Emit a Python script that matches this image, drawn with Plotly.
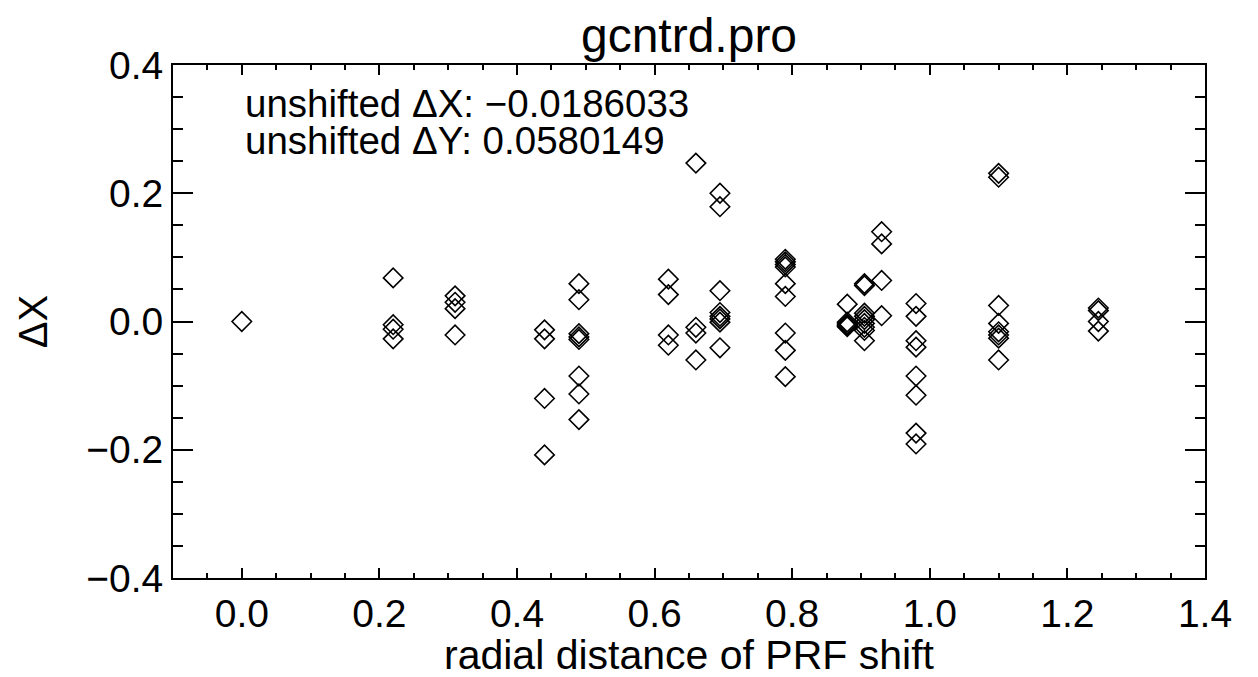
import plotly.graph_objects as go

# radial distance of PRF shift (one entry per point)
radial = (
    [0.0]
    + [0.22] * 4
    + [0.31] * 4
    + [0.44] * 4
    + [0.49] * 8
    + [0.62] * 4
    + [0.66] * 4
    + [0.695] * 8
    + [0.79] * 9
    + [0.88] * 5
    + [0.905] * 9
    + [0.93] * 4
    + [0.98] * 8
    + [1.10] * 8
    + [1.245] * 4
)

# Delta X values, same order as radial
delta_x = (
    [0.0]
    + [0.068, -0.005, -0.012, -0.027]
    + [0.040, 0.030, 0.020, -0.021]
    + [-0.013, -0.027, -0.120, -0.208]
    + [0.059, 0.034, -0.019, -0.024, -0.028, -0.085, -0.113, -0.153]
    + [0.066, 0.042, -0.021, -0.037]
    + [0.247, -0.009, -0.018, -0.060]
    + [0.200, 0.179, 0.048, 0.014, 0.008, 0.004, -0.001, -0.041]
    + [0.097, 0.093, 0.089, 0.085, 0.059, 0.039, -0.018, -0.045, -0.086]
    + [0.027, -0.001, -0.004, -0.006, -0.008]
    + [0.059, 0.056, 0.013, 0.008, 0.003, -0.003, -0.009, -0.014, -0.030]
    + [0.140, 0.121, 0.064, 0.009]
    + [0.028, 0.008, -0.030, -0.040, -0.085, -0.115, -0.174, -0.191]
    + [0.231, 0.225, 0.025, -0.003, -0.016, -0.021, -0.026, -0.060]
    + [0.021, 0.017, 0.000, -0.015]
)

x_ticks = [0.0, 0.2, 0.4, 0.6, 0.8, 1.0, 1.2, 1.4]
x_ticklabels = ["0.0", "0.2", "0.4", "0.6", "0.8", "1.0", "1.2", "1.4"]
y_ticks = [-0.4, -0.2, 0.0, 0.2, 0.4]
y_ticklabels = ["\u22120.4", "\u22120.2", "0.0", "0.2", "0.4"]

title_text = "gcntrd.pro"
x_title = "radial distance of PRF shift"
y_title = "\u0394X"
note_lines = ["unshifted \u0394X: \u22120.0186033", "unshifted \u0394Y: 0.0580149"]

FONT = "Liberation Sans, Arial, Helvetica, sans-serif"

fig = go.Figure()
fig.add_trace(
    go.Scatter(
        x=radial,
        y=delta_x,
        mode="markers",
        marker=dict(
            symbol="diamond-open",
            size=15,
            color="black",
            line=dict(color="black", width=1.6),
        ),
        showlegend=False,
        hoverinfo="x+y",
    )
)

axis_common = dict(
    showline=True,
    linecolor="black",
    linewidth=2,
    mirror="allticks",
    ticks="inside",
    tickcolor="black",
    tickwidth=1.5,
    showgrid=False,
    zeroline=False,
    automargin=False,
    tickfont=dict(family=FONT, size=39, color="black"),
)

fig.update_xaxes(
    **axis_common,
    range=[-0.1, 1.4],
    tickvals=x_ticks,
    ticktext=x_ticklabels,
    ticklen=10,
    ticklabelstandoff=0,
    minor=dict(ticks="inside", ticklen=5, dtick=0.05, tickcolor="black", tickwidth=1.5, showgrid=False),
)
fig.update_yaxes(
    **axis_common,
    range=[-0.4, 0.4],
    tickvals=y_ticks,
    ticktext=y_ticklabels,
    ticklen=20,
    minor=dict(ticks="inside", ticklen=10, dtick=0.05, tickcolor="black", tickwidth=1.5, showgrid=False),
    title=dict(text=y_title, font=dict(family=FONT, size=40, color="black"), standoff=26),
)

# x-axis title, placed below the tick labels
fig.add_annotation(
    xref="paper",
    yref="paper",
    x=0.5,
    y=-0.150,
    xanchor="center",
    yanchor="middle",
    text=x_title,
    showarrow=False,
    font=dict(family=FONT, size=41, color="black"),
)

for i, line in enumerate(note_lines):
    fig.add_annotation(
        xref="paper",
        yref="paper",
        x=0.0678,
        y=0.924 - i * 0.072,
        xanchor="left",
        yanchor="middle",
        text=line,
        showarrow=False,
        font=dict(family=FONT, size=38.5, color="black"),
    )

fig.update_layout(
    width=1258,
    height=677,
    margin=dict(l=173, r=53, t=65, b=99),
    paper_bgcolor="white",
    plot_bgcolor="white",
    title=dict(
        text=title_text,
        x=0.5477,
        xanchor="center",
        y=0.948,
        yanchor="middle",
        font=dict(family=FONT, size=48, color="black"),
    ),
    font=dict(family=FONT, color="black"),
)

fig.write_html("out.html")
